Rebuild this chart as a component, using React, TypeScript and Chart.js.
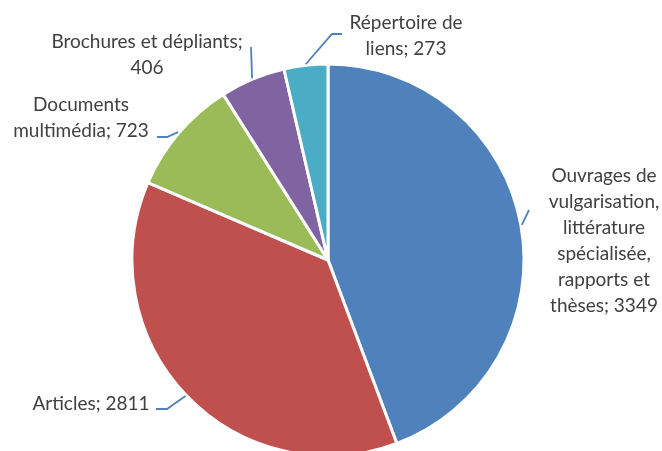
import React, { useEffect, useRef } from "react";
import { Chart, registerables } from "chart.js";

Chart.register(...registerables);

const categories = [
  "Ouvrages de vulgarisation, littérature spécialisée, rapports et thèses",
  "Articles",
  "Documents multimédia",
  "Brochures et dépliants",
  "Répertoire de liens",
];
const values = [3349, 2811, 723, 406, 273];
const colors = ["#4F81BD", "#C0504D", "#9BBB59", "#8064A2", "#4BACC6"];

// label text lines (wrapped like the reference)
const labelLines = [
  ["Ouvrages de", "vulgarisation,", "littérature", "spécialisée,", "rapports et", "thèses; 3349"],
  ["Articles; 2811"],
  ["Documents", "multimédia; 723"],
  ["Brochures et dépliants;", "406"],
  ["Répertoire de", "liens; 273"],
];

// label layout: text center x, first line y, leader points after the arc anchor
const labelLayout = [
  { x: 604, y: 176, leader: [[529, 210]] },
  { x: 91, y: 404, leader: [[167, 409], [156, 409]] },
  { x: 81, y: 105, leader: [[167, 137], [157, 137]] },
  { x: 147, y: 42, leader: [[251, 47]] },
  { x: 406, y: 23, leader: [[332, 34], [342, 34]] },
];

const FONT = "19px Lato, 'Noto Sans', sans-serif";
const LINE_H = 26;

const labelPlugin = {
  id: "outerLabels",
  afterDraw(chart: any) {
    const ctx = chart.ctx;
    const meta = chart.getDatasetMeta(0);
    ctx.save();
    meta.data.forEach((arc: any, i: number) => {
      const { x, y, startAngle, endAngle, outerRadius } = arc.getProps(
        ["x", "y", "startAngle", "endAngle", "outerRadius"],
        true
      );
      const mid = (startAngle + endAngle) / 2;
      const ax = x + Math.cos(mid) * (outerRadius + 1);
      const ay = y + Math.sin(mid) * (outerRadius + 1);
      const lay = labelLayout[i];
      ctx.beginPath();
      ctx.moveTo(ax, ay);
      lay.leader.forEach((p) => ctx.lineTo(p[0], p[1]));
      ctx.strokeStyle = "#4F81BD";
      ctx.lineWidth = 1.8;
      ctx.stroke();
      ctx.fillStyle = "#404040";
      ctx.font = FONT;
      ctx.textAlign = "center";
      ctx.textBaseline = "middle";
      labelLines[i].forEach((t, k) => ctx.fillText(t, lay.x, lay.y + k * LINE_H));
    });
    ctx.restore();
  },
};

export default function App() {
  const ref = useRef<HTMLCanvasElement>(null);
  useEffect(() => {
    if (!ref.current) return;
    const chart = new Chart(ref.current, {
      type: "pie",
      data: {
        labels: categories,
        datasets: [
          {
            data: values,
            backgroundColor: colors,
            borderColor: "#FFFFFF",
            borderWidth: 3,
          },
        ],
      },
      options: {
        animation: false,
        responsive: true,
        maintainAspectRatio: false,
        radius: 196,
        layout: { padding: { left: 0, right: 6, top: 69, bottom: 0 } },
        plugins: {
          legend: { display: false },
          tooltip: { enabled: false },
        },
      } as any,
      plugins: [labelPlugin],
    });
    return () => chart.destroy();
  }, []);
  return (
    <div
      style={{
        position: "fixed",
        left: 0,
        top: 0,
        width: 662,
        height: 451,
        background: "#fff",
        overflow: "hidden",
      }}
    >
      <canvas ref={ref} />
    </div>
  );
}
